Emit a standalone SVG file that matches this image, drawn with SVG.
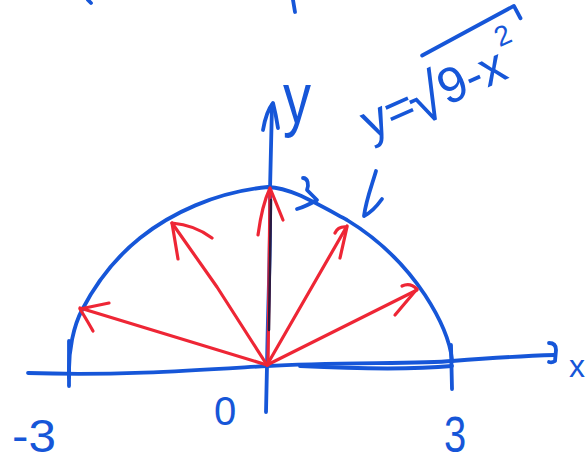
<svg xmlns="http://www.w3.org/2000/svg" width="588" height="467" viewBox="0 0 588 467">
<style>
.b{fill:none;stroke:#1656d8;stroke-width:3.8;stroke-linecap:round;stroke-linejoin:round}
.r{fill:none;stroke:#ee2635;stroke-width:3.2;stroke-linecap:round;stroke-linejoin:round}
.d{fill:none;stroke:#2a1a40;stroke-width:2.5;stroke-linecap:round}
.t{fill:#1656d8;font-family:"Liberation Sans",Arial,sans-serif}
</style>
<rect width="588" height="467" fill="#fff"/>
<g id="marks">
<path class="b" d="M88,0 L91,3"/>
<path class="b" d="M293,0 L295,12"/>
</g>
<g id="curve">
<path class="b" d="M69,378 C68,350 74,325 82,310 C95,285 115,258 140,238 C170,214 215,192 268,187 C290,188 310,200 347,220 C380,240 405,265 425,295 C440,318 450,340 452,360"/>
<path class="b" d="M303,178 C308,178 309,185 307,190 C312,195 315,198 317,200 C310,204 304,207 297,209"/>
<path class="b" d="M376,171 C372,185 366,200 364,216 C370,213 377,206 382,199"/>
</g>
<g id="axes">
<path class="b" d="M28,373 C120,376 200,370 267,366 C330,362 420,364 452,361 C490,358 520,356 555,355"/>
<path class="b" d="M300,366 C360,369 420,369 452,366"/>
<path class="b" d="M549,343 Q556,343 556,350 L555,361 Q552,363 549,362"/>
<path class="b" d="M69,341 L69,386"/>
<path class="b" d="M451,345 L452,389"/>
<path class="b" d="M266,412 L267,366 C268,300 271,240 270,190 L272,105"/>
<path class="b" d="M263,130 Q266,112 273,103 Q276,115 278,128"/>
</g>
<g id="vectors">
<path class="r" d="M267,365 L80,308"/>
<path class="r" d="M109,303 L80,309 Q88,322 93,331"/>
<path class="r" d="M267,365 L217,287 L172,223"/>
<path class="r" d="M212,238 Q195,225 172,223 L178,259"/>
<path class="r" d="M268,365 L270,190"/>
<path class="d" d="M269,330 L271,200"/>
<path class="r" d="M258,235 Q262,205 270,188 Q277,205 283,220"/>
<path class="r" d="M267,365 L347,226"/>
<path class="r" d="M335,233 Q338,226 347,227 L340,258"/>
<path class="r" d="M267,365 L417,290"/>
<path class="r" d="M402,286 Q410,282 417,289 L395,315"/>
</g>
<g id="labels">
<text class="t" font-size="56" transform="translate(283,123) scale(1,1.3)">y</text>
<text class="t" font-size="32" x="569" y="377">x</text>
<text class="t" font-size="40" x="214" y="425">0</text>
<text class="t" font-size="40" transform="translate(444,452) scale(1,1.25)">3</text>
<text class="t" font-size="38" transform="translate(12,452) scale(1.3,1.2)">-3</text>
<g transform="translate(370,140) rotate(-24)">
<text class="t" font-size="50" x="0" y="0">y=</text>
<text class="t" font-size="64" x="50" y="8">√</text>
<path class="b" d="M82,-56 L186,-64 L187,-50"/>
<text class="t" font-size="50" x="84" y="0">9-x</text>
<text class="t" font-size="28" x="156" y="-32">2</text>
</g>
</g>
</svg>
